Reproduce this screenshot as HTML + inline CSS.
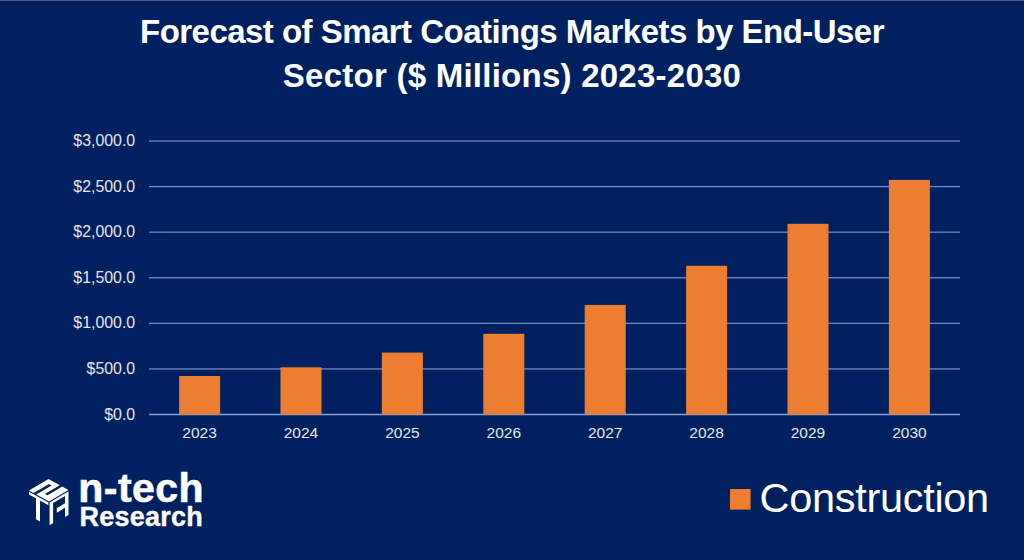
<!DOCTYPE html>
<html><head><meta charset="utf-8">
<style>
html,body{margin:0;padding:0;background:#002060;}
body{width:1024px;height:560px;overflow:hidden;position:relative;}
svg{position:absolute;left:0;top:0;}
.ax{font-family:"Liberation Sans",sans-serif;font-size:15.5px;fill:#e6e6e6;}
.ay{font-family:"Liberation Sans",sans-serif;font-size:15.9px;fill:#e6e6e6;}
.t{font-family:"Liberation Sans",sans-serif;font-size:33px;font-weight:bold;fill:#ffffff;}
.lg{font-family:"Liberation Sans",sans-serif;font-size:40px;fill:#ffffff;}
.lo{font-family:"Liberation Sans",sans-serif;font-weight:bold;fill:#ffffff;}
</style></head>
<body>
<svg width="1024" height="560" viewBox="0 0 1024 560">
<rect x="0" y="0" width="1024" height="560" fill="#002060"/>
<rect x="0" y="0" width="1024" height="1" fill="#4a6298"/>
<rect x="0" y="1" width="1024" height="1" fill="#00174a"/><rect x="0" y="2" width="1024" height="1" fill="#001d56"/><rect x="0" y="3" width="1024" height="1" fill="#001c55"/><rect x="0" y="4" width="1024" height="1" fill="#00194f"/><rect x="0" y="5" width="1024" height="1" fill="#001e5b"/>
<text x="512" y="42.7" text-anchor="middle" class="t" letter-spacing="-0.53">Forecast of Smart Coatings Markets by End-User</text>
<text x="512" y="86.7" text-anchor="middle" class="t" letter-spacing="0.25">Sector ($ Millions) 2023-2030</text>
<rect x="149" y="413.75" width="811" height="1.5" fill="#8aa0d0"/>
<rect x="149" y="368.27" width="811" height="1.3" fill="#7089c2"/>
<rect x="149" y="322.69" width="811" height="1.3" fill="#7089c2"/>
<rect x="149" y="277.11" width="811" height="1.3" fill="#7089c2"/>
<rect x="149" y="231.53" width="811" height="1.3" fill="#7089c2"/>
<rect x="149" y="185.95" width="811" height="1.3" fill="#7089c2"/>
<rect x="149" y="140.37" width="811" height="1.3" fill="#7089c2"/>
<text x="135.2" y="419.60" text-anchor="end" class="ay">$0.0</text>
<text x="135.2" y="374.02" text-anchor="end" class="ay">$500.0</text>
<text x="135.2" y="328.44" text-anchor="end" class="ay">$1,000.0</text>
<text x="135.2" y="282.86" text-anchor="end" class="ay">$1,500.0</text>
<text x="135.2" y="237.28" text-anchor="end" class="ay">$2,000.0</text>
<text x="135.2" y="191.70" text-anchor="end" class="ay">$2,500.0</text>
<text x="135.2" y="146.12" text-anchor="end" class="ay">$3,000.0</text>
<rect x="179.10" y="376" width="41" height="38.50" fill="#ed7d31"/>
<text x="199.60" y="438.4" text-anchor="middle" class="ax">2023</text>
<rect x="280.50" y="367.3" width="41" height="47.20" fill="#ed7d31"/>
<text x="301.00" y="438.4" text-anchor="middle" class="ax">2024</text>
<rect x="381.90" y="352.6" width="41" height="61.90" fill="#ed7d31"/>
<text x="402.40" y="438.4" text-anchor="middle" class="ax">2025</text>
<rect x="483.30" y="333.8" width="41" height="80.70" fill="#ed7d31"/>
<text x="503.80" y="438.4" text-anchor="middle" class="ax">2026</text>
<rect x="584.70" y="304.9" width="41" height="109.60" fill="#ed7d31"/>
<text x="605.20" y="438.4" text-anchor="middle" class="ax">2027</text>
<rect x="686.10" y="265.8" width="41" height="148.70" fill="#ed7d31"/>
<text x="706.60" y="438.4" text-anchor="middle" class="ax">2028</text>
<rect x="787.50" y="223.8" width="41" height="190.70" fill="#ed7d31"/>
<text x="808.00" y="438.4" text-anchor="middle" class="ax">2029</text>
<rect x="888.90" y="179.9" width="41" height="234.60" fill="#ed7d31"/>
<text x="909.40" y="438.4" text-anchor="middle" class="ax">2030</text>
<rect x="730" y="489" width="20.6" height="20.6" fill="#ed7d31"/>
<text x="759.5" y="511.9" class="lg" style="font-size:41.5px;letter-spacing:-0.3px">Construction</text>
<text x="78.3" y="502" class="lo" style="font-size:41px;letter-spacing:0.45px;stroke:#fff;stroke-width:0.6px">n-tech</text>
<text x="79.4" y="526" class="lo" style="font-size:27px;letter-spacing:0.25px;stroke:#fff;stroke-width:0.4px">Research</text>
<g id="logo">
<g transform="matrix(0.20,0.11,-0.195,0.115,48.5,479)">
<path d="M0 0H100V100H0Z M23 21V100H36V21Z M56 0V76H69V0Z" fill="#ffffff" fill-rule="evenodd"/>
</g>
<g transform="matrix(0.20,0.11,0,0.25,29,490.5)">
<path d="M0 5H97V16H55V100H35V16H0Z" fill="#ffffff"/>
</g>
<g transform="matrix(0.195,-0.115,0,0.25,49,501.5)">
<path d="M3 5H100V100H82V63H40V45H82V16H21V96H3Z" fill="#ffffff"/>
</g>
</g>
</svg>
</body></html>
